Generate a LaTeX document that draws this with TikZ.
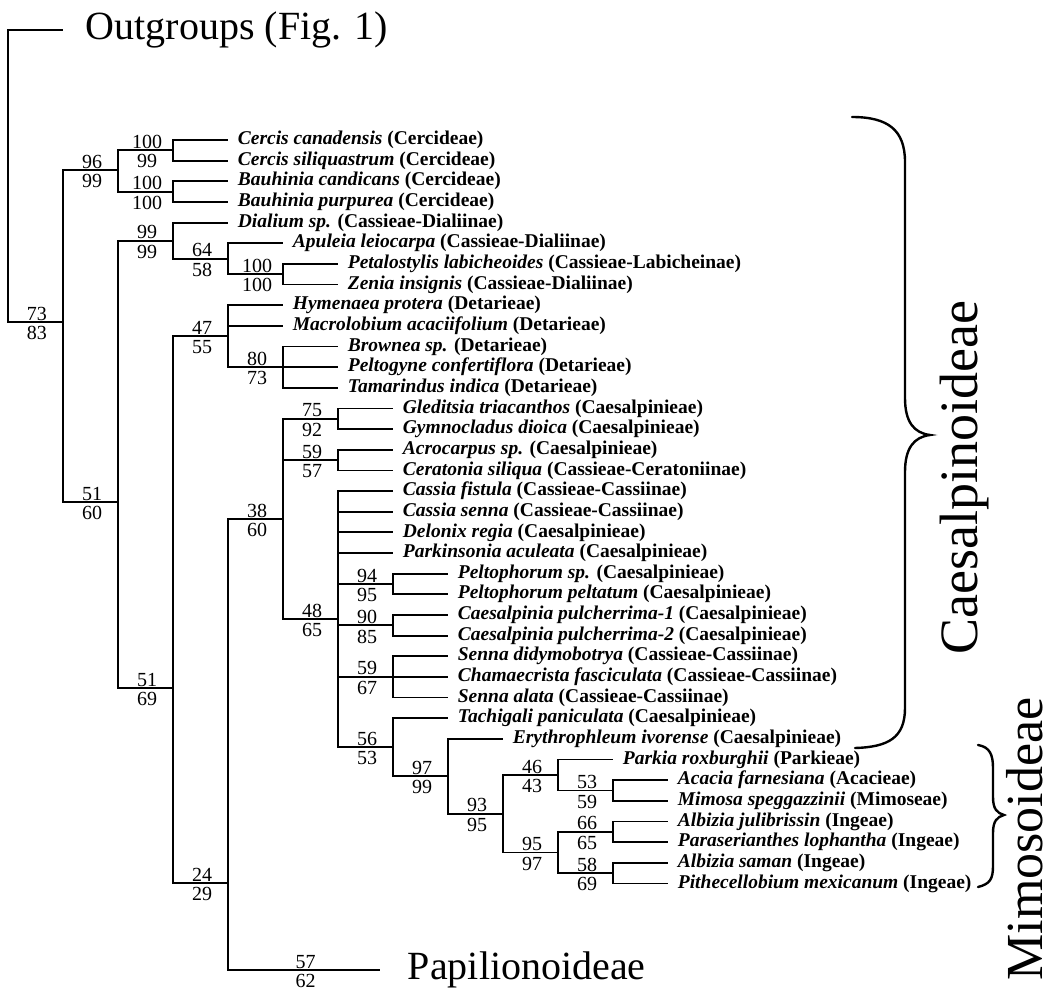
\documentclass[tikz,border=0pt]{standalone}
\usepackage{fontspec}
\setmainfont{Liberation Serif}
\usetikzlibrary{positioning}
\tikzset{
  tree/.style={x=1pt,y=-1pt,line width=1.8pt},
  taxon/.style={anchor=west,inner xsep=9pt,inner ysep=0pt,
    font=\fontsize{19.5}{20}\bfseries},
  upper/.style={pos=.75,anchor=base,xshift=1.5pt,yshift=2pt,inner sep=0pt,
    font=\fontsize{20}{20}\selectfont},
  lower/.style={pos=.75,anchor=north,xshift=1.5pt,yshift=-3.5pt,inner sep=0pt,
    font=\fontsize{20}{20}\selectfont},
  group/.style={inner sep=0pt,font=\fontsize{40}{44}\selectfont},
  subfamily/.style={rotate=90,inner sep=0pt,text depth=0pt,
    font=\fontsize{54}{58}\selectfont},
  brace/.style={line width=2.4pt,line cap=round}
}
\begin{document}
\begin{tikzpicture}[tree]
\useasboundingbox (0,0) rectangle (1055,990);

% clades
\coordinate (nR) at (8,176);
\coordinate (nA) at (63,322);
\coordinate (nB) at (118,170);
\coordinate (nB1) at (173,150.3);
\coordinate (nB2) at (173,191.6);
\coordinate (nC) at (118,502);
\coordinate (nD) at (173,240.7);
\coordinate (nD1) at (228,258.7);
\coordinate (nD2) at (283,274.2);
\coordinate (nE) at (173,688);
\coordinate (nF) at (228,336.2);
\coordinate (nF1) at (283,367.15);
\coordinate (nG) at (228,883);
\coordinate (nH) at (283,519);
\coordinate (nH1) at (338,418.8);
\coordinate (nH2) at (338,460.1);
\coordinate (nH3) at (338,619.1);
\coordinate (nP1) at (393,584);
\coordinate (nP2) at (393,625.3);
\coordinate (nP3) at (393,676.9);
\coordinate (nI) at (393,747.2);
\coordinate (nJ) at (448,776.3);
\coordinate (nK) at (503,813.7);
\coordinate (nL) at (558,775);
\coordinate (nM) at (558,852.4);
\coordinate (nM1) at (613,790.5);
\coordinate (nM2) at (613,831.8);
\coordinate (nM3) at (613,873.1);
\coordinate (og) at (63,30);
\coordinate (pap) at (380,970);

% outgroups and Papilionoideae
\node[group,right=22pt of og] (outg) {Outgroups (Fig. 1)};
\node[group,right=27pt of pap] (papi) {Papilionoideae};

% taxa
\node[taxon] (t1) at (228,140) {\textit{Cercis canadensis} (Cercideae)};
\node[taxon] (t2) at (228,160.65) {\textit{Cercis siliquastrum} (Cercideae)};
\node[taxon] (t3) at (228,181.3) {\textit{Bauhinia candicans} (Cercideae)};
\node[taxon] (t4) at (228,201.95) {\textit{Bauhinia purpurea} (Cercideae)};
\node[taxon] (t5) at (228,222.6) {\textit{Dialium sp.} (Cassieae-Dialiinae)};
\node[taxon] (t6) at (283,243.25) {\textit{Apuleia leiocarpa} (Cassieae-Dialiinae)};
\node[taxon] (t7) at (338,263.9) {\textit{Petalostylis labicheoides} (Cassieae-Labicheinae)};
\node[taxon] (t8) at (338,284.55) {\textit{Zenia insignis} (Cassieae-Dialiinae)};
\node[taxon] (t9) at (283,305.2) {\textit{Hymenaea protera} (Detarieae)};
\node[taxon] (t10) at (283,325.85) {\textit{Macrolobium acaciifolium} (Detarieae)};
\node[taxon] (t11) at (338,346.5) {\textit{Brownea sp.} (Detarieae)};
\node[taxon] (t12) at (338,367.15) {\textit{Peltogyne confertiflora} (Detarieae)};
\node[taxon] (t13) at (338,387.8) {\textit{Tamarindus indica} (Detarieae)};
\node[taxon] (t14) at (393,408.45) {\textit{Gleditsia triacanthos} (Caesalpinieae)};
\node[taxon] (t15) at (393,429.1) {\textit{Gymnocladus dioica} (Caesalpinieae)};
\node[taxon] (t16) at (393,449.75) {\textit{Acrocarpus sp.} (Caesalpinieae)};
\node[taxon] (t17) at (393,470.4) {\textit{Ceratonia siliqua} (Cassieae-Ceratoniinae)};
\node[taxon] (t18) at (393,491.05) {\textit{Cassia fistula} (Cassieae-Cassiinae)};
\node[taxon] (t19) at (393,511.7) {\textit{Cassia senna} (Cassieae-Cassiinae)};
\node[taxon] (t20) at (393,532.35) {\textit{Delonix regia} (Caesalpinieae)};
\node[taxon] (t21) at (393,553) {\textit{Parkinsonia aculeata} (Caesalpinieae)};
\node[taxon] (t22) at (448,573.65) {\textit{Peltophorum sp.} (Caesalpinieae)};
\node[taxon] (t23) at (448,594.3) {\textit{Peltophorum peltatum} (Caesalpinieae)};
\node[taxon] (t24) at (448,614.95) {\textit{Caesalpinia pulcherrima-1} (Caesalpinieae)};
\node[taxon] (t25) at (448,635.6) {\textit{Caesalpinia pulcherrima-2} (Caesalpinieae)};
\node[taxon] (t26) at (448,656.25) {\textit{Senna didymobotrya} (Cassieae-Cassiinae)};
\node[taxon] (t27) at (448,676.9) {\textit{Chamaecrista fasciculata} (Cassieae-Cassiinae)};
\node[taxon] (t28) at (448,697.55) {\textit{Senna alata} (Cassieae-Cassiinae)};
\node[taxon] (t29) at (448,718.2) {\textit{Tachigali paniculata} (Caesalpinieae)};
\node[taxon] (t30) at (503,738.85) {\textit{Erythrophleum ivorense} (Caesalpinieae)};
\node[taxon] (t31) at (613,759.5) {\textit{Parkia roxburghii} (Parkieae)};
\node[taxon] (t32) at (668,780.15) {\textit{Acacia farnesiana} (Acacieae)};
\node[taxon] (t33) at (668,800.8) {\textit{Mimosa speggazzinii} (Mimoseae)};
\node[taxon] (t34) at (668,821.45) {\textit{Albizia julibrissin} (Ingeae)};
\node[taxon] (t35) at (668,842.1) {\textit{Paraserianthes lophantha} (Ingeae)};
\node[taxon] (t36) at (668,862.75) {\textit{Albizia saman} (Ingeae)};
\node[taxon] (t37) at (668,883.4) {\textit{Pithecellobium mexicanum} (Ingeae)};

% branches with support values
\draw (nR) |- (og);
\draw (nR) |- node[upper] (sA) {73} node[lower] (sAb) {83} (nA);
\draw (nA) |- node[upper] (sB) {96} node[lower] (sBb) {99} (nB);
\draw (nA) |- node[upper] (sC) {51} node[lower] (sCb) {60} (nC);
\draw (nB) |- node[upper] (sB1) {100} node[lower] (sB1b) {99} (nB1);
\draw (nB) |- node[upper] (sB2) {100} node[lower] (sB2b) {100} (nB2);
\draw (nC) |- node[upper] (sD) {99} node[lower] (sDb) {99} (nD);
\draw (nC) |- node[upper] (sE) {51} node[lower] (sEb) {69} (nE);
\draw (nD) |- node[upper] (sD1) {64} node[lower] (sD1b) {58} (nD1);
\draw (nD1) |- node[upper] (sD2) {100} node[lower] (sD2b) {100} (nD2);
\draw (nE) |- node[upper] (sF) {47} node[lower] (sFb) {55} (nF);
\draw (nE) |- node[upper] (sG) {24} node[lower] (sGb) {29} (nG);
\draw (nF) |- node[upper] (sF1) {80} node[lower] (sF1b) {73} (nF1);
\draw (nG) |- node[upper] (sH) {38} node[lower] (sHb) {60} (nH);
\draw (nG) |- node[upper] (sPa) {57} node[lower] (sPab) {62} (pap);
\draw (nH) |- node[upper] (sH1) {75} node[lower] (sH1b) {92} (nH1);
\draw (nH) |- node[upper] (sH2) {59} node[lower] (sH2b) {57} (nH2);
\draw (nH) |- node[upper] (sH3) {48} node[lower] (sH3b) {65} (nH3);
\draw (nH3) |- node[upper] (sP1) {94} node[lower] (sP1b) {95} (nP1);
\draw (nH3) |- node[upper] (sP2) {90} node[lower] (sP2b) {85} (nP2);
\draw (nH3) |- node[upper] (sP3) {59} node[lower] (sP3b) {67} (nP3);
\draw (nH3) |- node[upper] (sI) {56} node[lower] (sIb) {53} (nI);
\draw (nI) |- node[upper] (sJ) {97} node[lower] (sJb) {99} (nJ);
\draw (nJ) |- node[upper] (sK) {93} node[lower] (sKb) {95} (nK);
\draw (nK) |- node[upper] (sL) {46} node[lower] (sLb) {43} (nL);
\draw (nK) |- node[upper] (sM) {95} node[lower] (sMb) {97} (nM);
\draw (nL) |- node[upper] (sM1) {53} node[lower] (sM1b) {59} (nM1);
\draw (nM) |- node[upper] (sM2) {66} node[lower] (sM2b) {65} (nM2);
\draw (nM) |- node[upper] (sM3) {58} node[lower] (sM3b) {69} (nM3);

% terminal branches
\draw (nB1) |- (t1.west) (nB1) |- (t2.west);
\draw (nB2) |- (t3.west) (nB2) |- (t4.west);
\draw (nD) |- (t5.west) (nD1) |- (t6.west);
\draw (nD2) |- (t7.west) (nD2) |- (t8.west);
\draw (nF) |- (t9.west) (nF) |- (t10.west);
\draw (nF1) |- (t11.west) (nF1) |- (t12.west) (nF1) |- (t13.west);
\draw (nH1) |- (t14.west) (nH1) |- (t15.west);
\draw (nH2) |- (t16.west) (nH2) |- (t17.west);
\draw (nH3) |- (t18.west) (nH3) |- (t19.west) (nH3) |- (t20.west) (nH3) |- (t21.west);
\draw (nP1) |- (t22.west) (nP1) |- (t23.west);
\draw (nP2) |- (t24.west) (nP2) |- (t25.west);
\draw (nP3) |- (t26.west) (nP3) |- (t27.west) (nP3) |- (t28.west);
\draw (nI) |- (t29.west) (nJ) |- (t30.west);
\draw (nL) |- (t31.west);
\draw (nM1) |- (t32.west) (nM1) |- (t33.west);
\draw (nM2) |- (t34.west) (nM2) |- (t35.west);
\draw (nM3) |- (t36.west) (nM3) |- (t37.west);

% subfamilies
\draw[brace] (852,117) .. controls (888,117) and (905,130) .. (905,162) -- (905,398)
  .. controls (905,422) and (914,433) .. (930,435)
  .. controls (914,437) and (905,448) .. (905,472) -- (905,708)
  .. controls (905,738) and (888,747) .. (855,748);
\draw[brace] (978,745) .. controls (990,747) and (993,755) .. (993,768) -- (993,797)
  .. controls (993,809) and (997,813) .. (1004,815)
  .. controls (997,817) and (993,821) .. (993,833) -- (993,866)
  .. controls (993,879) and (990,884) .. (978,887);
\node[subfamily,anchor=south] (caes) at (978,478) {Caesalpinoideae};
\node[subfamily,anchor=south,font=\fontsize{52}{56}\selectfont] (mimo) at (1043,839) {Mimosoideae};
\end{tikzpicture}
\end{document}
